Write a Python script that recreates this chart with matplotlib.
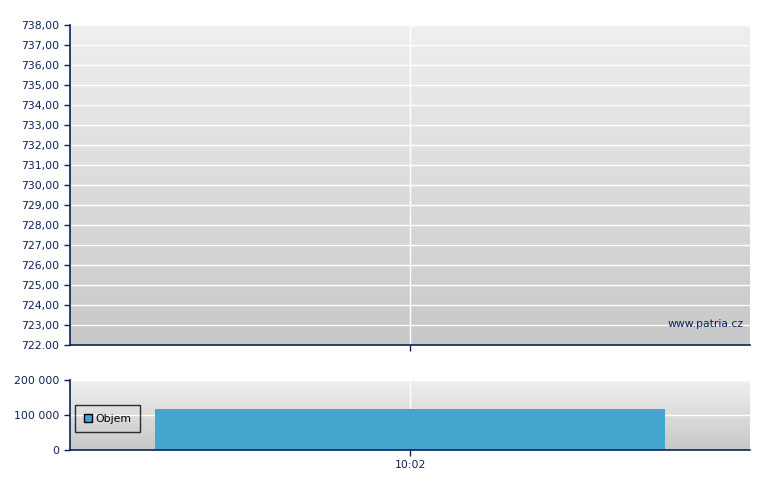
import numpy as np
import matplotlib
matplotlib.use("Agg")
import matplotlib.pyplot as plt
from matplotlib.patches import Patch
from matplotlib.colors import LinearSegmentedColormap

# data
times = ["10:02"]
volume = [117000]
price_ticks = [722 + i for i in range(17)]
price_labels = ["722.00"] + ["%d,00" % v for v in price_ticks[1:]]
vol_ticks = [0, 100000, 200000]
vol_labels = ["0", "100 000", "200 000"]

navy = "#0a2256"
plt.rcParams['font.family'] = ['DejaVu Sans']
plt.rcParams['font.size'] = 7.8

fig = plt.figure(figsize=(7.8, 4.9), dpi=100)
W, H = 780, 490
ax1 = fig.add_axes([70 / W, 1 - 345 / H, 680 / W, 320 / H])
ax2 = fig.add_axes([70 / W, 1 - 450 / H, 680 / W, 70 / H])

grad = np.linspace(0, 1, 256).reshape(-1, 1)
cmap = LinearSegmentedColormap.from_list("bg", ["#efefef", "#c8c8c8"])

for ax in (ax1, ax2):
    ax.imshow(grad, cmap=cmap, aspect="auto", extent=[0, 1, 0, 1],
              transform=ax.transAxes, zorder=0)
    ax.set_xlim(-0.5, 0.5)
    for s in ("top", "right"):
        ax.spines[s].set_visible(False)
    for s in ("left", "bottom"):
        ax.spines[s].set_color(navy)
        ax.spines[s].set_linewidth(1.2)
        ax.spines[s].set_zorder(5)
    ax.tick_params(colors=navy, length=4, width=1, labelcolor=navy)
    ax.grid(True, color="white", linewidth=1)
    ax.set_axisbelow(False)
    ax.set_xticks([0])

ax1.set_ylim(722, 738)
ax1.set_yticks(price_ticks)
ax1.set_yticklabels(price_labels)
ax1.set_xticklabels([""])
ax1.text(0.99, 0.05, "www.patria.cz", transform=ax1.transAxes, ha="right",
         va="bottom", color=navy, fontsize=7.8)

ax2.bar(range(len(times)), volume, width=0.75, color="#46a5cd", zorder=3)
ax2.set_ylim(0, 200000)
ax2.set_yticks(vol_ticks)
ax2.set_yticklabels(vol_labels)
ax2.set_xticklabels(times)

leg = ax2.legend(handles=[Patch(facecolor="#46a5cd", edgecolor="black", label="Objem")],
                 loc="center left", bbox_to_anchor=(0.0, 0.45), frameon=True,
                 fancybox=False, handlelength=0.8, handleheight=0.8,
                 handletextpad=0.3, borderpad=0.75, fontsize=7.8)
leg.get_frame().set_edgecolor("black")
leg.get_frame().set_facecolor("none")
leg.get_frame().set_linewidth(1)
leg.set_zorder(6)

fig.savefig("out.png", dpi=100)
